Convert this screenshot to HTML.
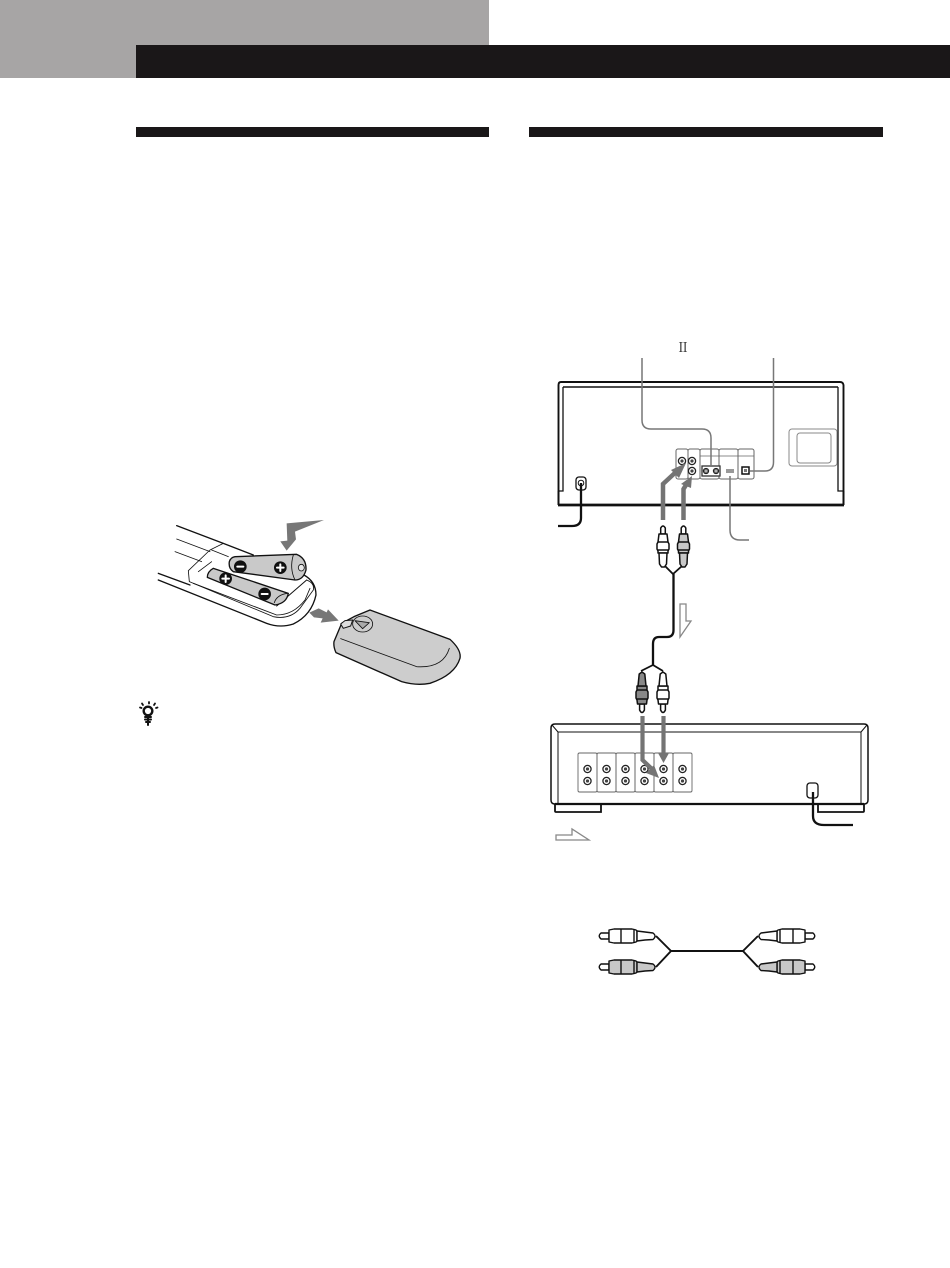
<!DOCTYPE html>
<html><head><meta charset="utf-8"><style>
html,body{margin:0;padding:0;background:#fff}
svg{display:block}
</style></head><body>
<svg width="950" height="1268" viewBox="0 0 950 1268" xmlns="http://www.w3.org/2000/svg">
<defs>
<g id="jack"><circle r="3.6" fill="#fff" stroke="#222" stroke-width="1.300"/><circle r="1.600" fill="#444"/></g>
<g id="jackS"><circle r="2.600" fill="#777" stroke="#222" stroke-width="1.100"/><circle r="0.900" fill="#ddd"/></g>
<g id="plugUp" stroke="#111" stroke-width="1.500" stroke-linejoin="round">
<path d="M-2.300,2 Q0,-2 2.300,2 L2.300,8 L-2.300,8 Z" fill="#fff"/>
<path d="M-4,8 L4,8 L5,16 L6,18 L6,23 L5,25 L5,27 L-5,27 L-5,25 L-6,23 L-6,18 L-5,16 Z"/>
<path d="M-4,27 L4,27 L3.500,38 L1.500,41 L-1.500,41 L-3.500,38 Z"/>
<path d="M-5,16 L5,16 M-5,24 L5,24" fill="none"/>
</g>
<g id="plugDown" stroke="#111" stroke-width="1.500" stroke-linejoin="round">
<path d="M-2.400,38 Q0,43 2.400,38 L2.400,32 L-2.400,32 Z" fill="#fff"/>
<path d="M-4.500,32 L4.500,32 L5,28 L6,26 L6,20 L5,18 L5,14 L-5,14 L-5,18 L-6,20 L-6,26 L-5,28 Z"/>
<path d="M-4,14 L4,14 L2.800,2 L0,0 L-2.800,2 Z"/>
<path d="M-5,18 L5,18 M-5,27 L5,27" fill="none"/>
</g>
<g id="plugSide" stroke="#111" stroke-width="1.400" stroke-linejoin="round">
<path d="M2,-3 L10,-3 L10,3 L2,3 Q-1.500,0 2,-3 Z" fill="#fff"/>
<path d="M10,-6 L15,-7 L33,-7 L37,-6 L38,-5 L38,5 L37,6 L33,7 L15,7 L10,6 Z"/>
<path d="M38,-5 L46,-4 L54,-3 Q58,0 54,3.500 L46,4 L38,5 Z"/>
<path d="M22,-7 L22,7 M35,-7 L35,7" fill="none"/>
</g>
</defs>

<!-- header -->
<rect x="0" y="0" width="489" height="78" fill="#a7a5a5"/>
<rect x="136" y="45" width="814" height="33" fill="#1a1718"/>
<rect x="136" y="127" width="353" height="10" fill="#1a1718"/>
<rect x="529" y="127" width="354" height="10" fill="#1a1718"/>

<!-- remote -->
<g transform="translate(130,500) scale(0.3333)" fill="none" stroke="#111" stroke-width="4" stroke-linejoin="round" stroke-linecap="round">
<path d="M140,77 L280,130 L370,165"/>
<path d="M85,240 L410,370 Q450,385 490,372 Q545,345 558,285 Q558,245 522,225"/>
<path d="M85,220 L180,255"/>
<path d="M140,117 L240,155 M135,155 L215,185" stroke-width="2.500"/>
<path d="M175,212 L240,150 L280,130 M175,212 L178,245 L430,350 Q480,360 510,325 L550,270 Q555,250 530,240" stroke-width="2.500"/>
<path d="M190,250 L440,345 Q490,345 525,300 L540,265" stroke-width="2.500"/>
<path d="M205,215 L245,185 M245,150 L295,170" stroke-width="2.500"/>
<path d="M440,318 L530,240" stroke-width="3"/>
<path d="M250,205 Q232,215 232,232 L435,315 Q470,310 475,280 Z" fill="#c9c9c9"/>
<path d="M433,308 Q440,285 472,280" stroke-width="2.500"/>
<path d="M315,170 L500,163 Q530,175 528,210 Q520,240 495,240 L310,215 Q295,205 298,185 Q302,172 315,170 Z" fill="#c9c9c9"/>
<path d="M490,165 Q478,205 495,240" stroke-width="2.500"/>
<ellipse cx="514" cy="203" rx="9" ry="10" fill="#e8e8e8" stroke-width="2.500"/>
<circle cx="331" cy="200" r="17" fill="#111"/><path d="M322,200 H340" stroke="#fff" stroke-width="6"/>
<circle cx="451" cy="203" r="17" fill="#111"/><path d="M441,203 H461 M451,193 V213" stroke="#fff" stroke-width="6"/>
<circle cx="287" cy="236" r="17" fill="#111"/><path d="M277,236 H297 M287,226 V246" stroke="#fff" stroke-width="6"/>
<circle cx="404" cy="282" r="17" fill="#111"/><path d="M395,282 H413" stroke="#fff" stroke-width="6"/>
<path d="M470,70 L582,60 L495,95 L498,118 L470,152 L451,124 L472,122 Z" fill="#777" stroke="none"/>
<path d="M538,338 L566,325 L590,337 L594,328 L626,362 L572,368 L578,355 L552,352 Z" fill="#777" stroke="none"/>
<path d="M635,370 L672,350 L720,330 L960,418 Q995,450 990,475 Q975,525 900,550 Q860,558 815,545 L618,458 Q610,440 612,425 Z" fill="#cdcdcd"/>
<path d="M632,416 L860,500 Q940,505 958,445" stroke-width="2.500"/>
<path d="M632,372 L645,362 L668,360 L662,378 L640,385 Z" fill="#ddd" stroke-width="3"/>
<ellipse cx="698" cy="372" rx="30" ry="24" fill="#cdcdcd" stroke-width="2.500"/>
<path d="M675,362 L718,368 L698,386 Z" fill="#aaa" stroke-width="2.500"/>
</g>

<!-- tip icon -->
<g fill="none" stroke="#111" stroke-width="1.800" stroke-linecap="round">
<circle cx="148" cy="711" r="4.300" stroke-width="2.400"/>
<path d="M149,702 V703.500 M142,703.500 L143,705 M155,703.500 L154,705 M140,707.500 L141.500,708 M157.500,707.500 L156,708"/>
<path d="M145,717 H151 M145,719.500 H151 M146,722 H150" stroke-width="2"/>
<path d="M148,717 V725" stroke-width="2"/>
</g>

<!-- CD player -->
<g fill="none" stroke="#111" stroke-width="1.700">
<path d="M558.500,491 L558.500,385 Q558.500,382 561,382 L840,382 Q843,382 843.500,385 L843.500,491" stroke-width="1.900"/>
<path d="M563,387 H838" stroke-width="1.500"/>
<path d="M558,491 H563 V387 M838,387 V491 H843.500" stroke-width="1.300"/>
<path d="M558.500,491 V505 M843.500,491 V505" stroke-width="2"/>
<path d="M558,505 H844" stroke-width="2.800"/>
<g stroke="#888" stroke-width="1"><rect x="789" y="429" width="48" height="37" rx="3"/><rect x="797" y="433" width="34" height="30" rx="3"/></g>
<g stroke="#666" stroke-width="1">
<rect x="676" y="449" width="12" height="30" rx="2"/>
<rect x="688" y="449" width="12" height="30" rx="2"/>
<rect x="700" y="449" width="19" height="30" rx="2"/>
<rect x="719" y="449" width="19" height="30" rx="2"/>
<rect x="738" y="449" width="16" height="30" rx="2"/>
<path d="M719,456 H738 M700,456 H719 M738,456 H754" stroke-width="0.700"/>
</g>
<rect x="702" y="466" width="18" height="10" stroke="#333" stroke-width="1.300" fill="#fff"/>
<rect x="742" y="467" width="7" height="7" stroke="#111" stroke-width="1.500" fill="#fff"/>
<rect x="744" y="469" width="3" height="3" fill="#777" stroke="none"/>
<rect x="726" y="469" width="8" height="4" fill="#999" stroke="none"/>
<path d="M642,358 V420 Q642,429 651,429 H702 Q711,429 711,438 V466" stroke="#777" stroke-width="1.500"/>
<path d="M773.500,358 V462 Q773.500,471 765,471 H750" stroke="#777" stroke-width="1.500"/>
<path d="M730,476 V530 Q730,540 740,540 H749" stroke="#777" stroke-width="1.500"/>
<rect x="576" y="477" width="10" height="13" rx="3" stroke-width="1.300"/>
<circle cx="581" cy="483" r="2.800" stroke-width="1"/>
<path d="M581,483 V518 Q581,526 572,526 H558" stroke-width="2.300"/>
</g>
<use href="#jack" x="682" y="461"/><use href="#jack" x="692" y="461"/><use href="#jack" x="692" y="471"/>
<use href="#jackS" x="706" y="471"/><use href="#jackS" x="716" y="471"/>
<path d="M663,520 V484 L677,471" fill="none" stroke="#747474" stroke-width="4.500"/>
<path d="M686,463 L671,470 L679,478 Z" fill="#747474"/>
<path d="M683.500,520 V489 L686,485" fill="none" stroke="#747474" stroke-width="4.500"/>
<path d="M692,476 L681,484 L691,488 Z" fill="#747474"/>
<use href="#plugUp" x="663" y="526" fill="#fff"/>
<use href="#plugUp" x="683.500" y="526" fill="#c8c8c8"/>
<path d="M665,566 L673,574 L682,566" fill="none" stroke="#111" stroke-width="1.800"/>
<path d="M673.500,574 V630 Q673.500,637 667,637 H659 Q653,637 653,644 V665" fill="none" stroke="#111" stroke-width="2.300"/>
<path d="M641,671 L653,665 L663,671" fill="none" stroke="#111" stroke-width="1.800"/>
<path d="M680,604 H686 V621 H691 L680,637 Z" fill="#fff" stroke="#888" stroke-width="1.300"/>
<use href="#plugDown" x="642" y="672" fill="#888"/>
<use href="#plugDown" x="663" y="672" fill="#fff"/>

<!-- Amp -->
<g fill="none" stroke="#111" stroke-width="1.500">
<path d="M555,724 H864 Q868,724 868,728 V800 Q868,804 864,804 H555 Q551,804 551,800 V728 Q551,724 555,724 Z"/>
<path d="M558,732 H861 M558,732 V803 M861,732 V803 M552,725 L558,732 M867,725 L861,732" stroke-width="1"/>
<path d="M555,804 H864" stroke-width="2.200"/>
<path d="M555,804 V811 Q555,812 556,812 H601 V804" stroke-width="1.800"/>
<path d="M818,804 V812 H863 Q864,812 864,811 V804" stroke-width="1.800"/>
<g stroke="#666" stroke-width="0.900">
<rect x="578" y="753" width="19" height="39" rx="1.500"/>
<rect x="597" y="753" width="19" height="39" rx="1.500"/>
<rect x="616" y="753" width="19" height="39" rx="1.500"/>
<rect x="635" y="753" width="19" height="39" rx="1.500"/>
<rect x="654" y="753" width="19" height="39" rx="1.500"/>
<rect x="673" y="753" width="19" height="39" rx="1.500"/>
</g>
<rect x="807" y="783" width="11" height="15" rx="3" fill="#fff" stroke-width="1.300"/>
<path d="M813,792 V816 Q813,825 824,825 H853" stroke-width="2.300"/>
</g>
<use href="#jack" x="587.500" y="769"/><use href="#jack" x="587.500" y="781"/>
<use href="#jack" x="606.500" y="769"/><use href="#jack" x="606.500" y="781"/>
<use href="#jack" x="625.500" y="769"/><use href="#jack" x="625.500" y="781"/>
<use href="#jack" x="644.500" y="769"/><use href="#jack" x="644.500" y="781"/>
<use href="#jack" x="663.500" y="769"/><use href="#jack" x="663.500" y="781"/>
<use href="#jack" x="682.500" y="769"/><use href="#jack" x="682.500" y="781"/>
<path d="M642.500,716 V760 L652,769" fill="none" stroke="#747474" stroke-width="4.200"/>
<path d="M659,778 L654,765 L646,773 Z" fill="#747474"/>
<path d="M663.500,716 V756" fill="none" stroke="#747474" stroke-width="4.200"/>
<path d="M663.500,763 L658,753 L669,753 Z" fill="#747474"/>
<path d="M556,835 H572 V829 L589,840 H556 Z" fill="#fff" stroke="#888" stroke-width="1.300"/>

<!-- loose cable -->
<g>
<use href="#plugSide" x="599" y="936" fill="#fff"/>
<use href="#plugSide" x="599" y="967" fill="#c8c8c8"/>
<use href="#plugSide" transform="translate(815,936) scale(-1,1)" fill="#fff"/>
<use href="#plugSide" transform="translate(815,967) scale(-1,1)" fill="#c8c8c8"/>
<path d="M656,936 L671,951 L656,967 M671,951 H743 M758,936 L743,951 L758,967" fill="none" stroke="#111" stroke-width="1.900"/>
</g>

<text x="683" y="352" text-anchor="middle" font-family="'Liberation Serif','Noto Serif CJK SC',serif" font-size="13" fill="#222">Ⅱ</text>
</svg>
</body></html>
